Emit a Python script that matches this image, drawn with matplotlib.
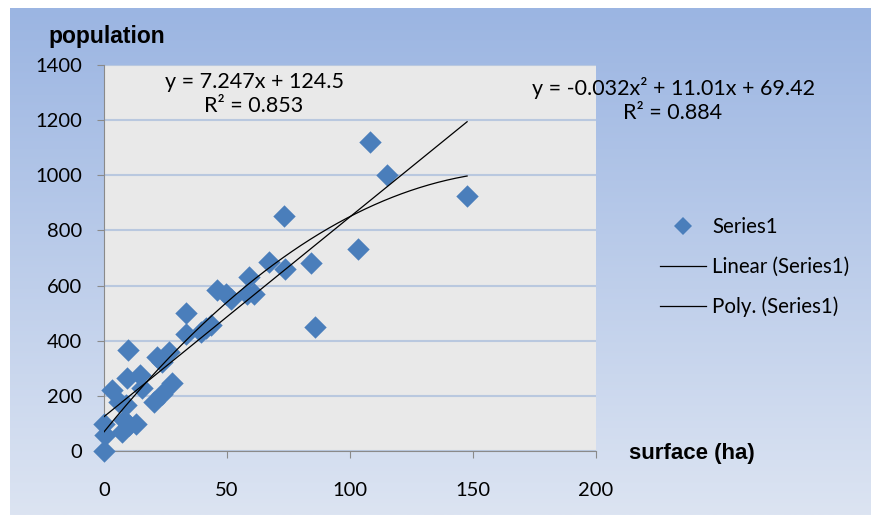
import numpy as np
import matplotlib.pyplot as plt
from matplotlib.lines import Line2D

# surface (ha) vs population
surface = [0, 0.4, 0, 3.1, 6.1, 9.1, 8.1, 7.4, 10.1, 12.9, 9.5, 9.9, 14.5, 15.6,
           20.3, 23.7, 27.5, 21.7, 23.7, 26.4, 33.5, 33.2, 39.3, 41.5, 43.4,
           46.1, 49.5, 51.5, 58.9, 58.3, 61, 67, 73, 73.5, 84, 85.6, 103.1,
           108.3, 115, 147.6]
population = [0, 57, 99, 220, 178, 166, 111, 69, 93, 99, 263, 366, 277, 229,
              178, 208, 245, 341, 323, 360, 499, 426, 432, 445, 456,
              583, 571, 553, 632, 571, 571, 686, 853, 660, 683, 450, 731,
              1120, 1001, 925]

lin_coef = [7.247, 124.5]
poly_coef = [-0.032, 11.01, 69.42]
lin_label = "y = 7.247x + 124.5\nR² = 0.853"
poly_label = "y = -0.032x² + 11.01x + 69.42\nR² = 0.884"

xticks = [0, 50, 100, 150, 200]
yticks = [0, 200, 400, 600, 800, 1000, 1200, 1400]

plt.rcParams['font.family'] = ['Lato', 'DejaVu Sans']
W, H = 871, 516
fig = plt.figure(figsize=(W / 100, H / 100), dpi=100)
fig.patch.set_facecolor('white')

# gradient background
bg = fig.add_axes([0, 0, 1, 1], zorder=-2)
bg.set_axis_off()
top = np.array([0x9b, 0xb5, 0xe2]) / 255
bot = np.array([0xdc, 0xe4, 0xf2]) / 255
t = np.linspace(0, 1, 256)[:, None]
grad = (top * (1 - t) + bot * t)[:, None, :]
bg.imshow(grad, aspect='auto', extent=[10 / W, 1, 1 / H, 1 - 8 / H])
bg.set_xlim(0, 1)
bg.set_ylim(0, 1)

ax = fig.add_axes([104 / W, (H - 451) / H, (596 - 104) / W, (451 - 65) / H])
ax.set_facecolor('#e9e9e9')
ax.set_xlim(0, 200)
ax.set_ylim(0, 1400)
ax.set_xticks(xticks)
ax.set_yticks(yticks)
ax.grid(axis='y', color='#b9c8df', lw=1.5)
ax.set_axisbelow(True)
for s in ['top', 'right']:
    ax.spines[s].set_visible(False)
for s in ['left', 'bottom']:
    ax.spines[s].set_color('#8a8a8a')
ax.tick_params(axis='y', length=5, color='#8a8a8a', pad=11, labelsize=14.5)
ax.tick_params(axis='x', length=5, color='#8a8a8a', pad=17, labelsize=14.5)

ax.scatter(surface, population, marker='D', s=130, color='#4a7ebb',
           zorder=3, clip_on=False, linewidths=0)

xs = np.linspace(min(surface), max(surface), 200)
ax.plot(xs, np.polyval(lin_coef, xs), color='black', lw=0.9, zorder=4)
ax.plot(xs, np.polyval(poly_coef, xs), color='black', lw=0.9, zorder=4)

fig.text(48 / W, 1 - 36 / H, 'population', fontsize=16.5, fontweight='bold',
         family='Liberation Sans', va='center', ha='left')
fig.text(629 / W, 1 - 453 / H, 'surface (ha)', fontsize=16, fontweight='bold',
         family='Liberation Sans', va='center', ha='left')

fig.text(254 / W, 1 - 94 / H, lin_label, fontsize=15.5, ha='center',
         va='center', multialignment='center', linespacing=1.25)
fig.text(673 / W, 1 - 100 / H, poly_label, fontsize=15.5, ha='center',
         va='center', multialignment='center', linespacing=1.25)

handles = [Line2D([], [], marker='D', ls='none', color='#4a7ebb', ms=9, mew=0),
           Line2D([], [], color='black', lw=0.9),
           Line2D([], [], color='black', lw=0.9)]
fig.legend(handles, ['Series1', 'Linear (Series1)', 'Poly. (Series1)'],
           loc='center left', bbox_to_anchor=(660 / W, 1 - 267 / H),
           frameon=False, fontsize=14.8, handlelength=2.25, handletextpad=0.3,
           labelspacing=0.95, borderpad=0, borderaxespad=0)

fig.savefig('out.png', dpi=100)
